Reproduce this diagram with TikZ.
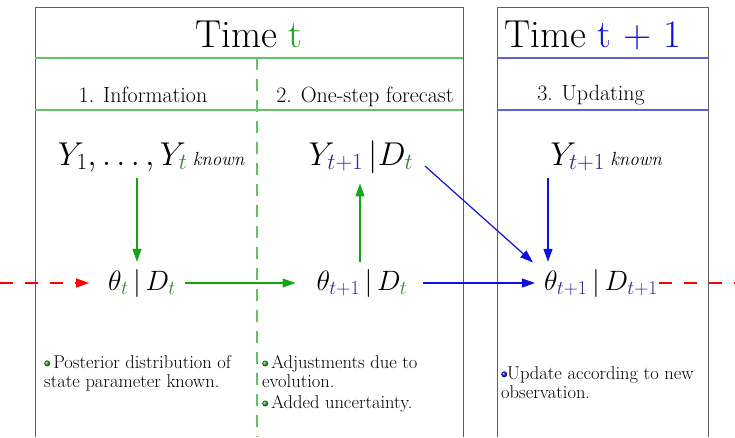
\RequirePackage{fix-cm}
\documentclass[tikz,border=0pt]{standalone}
\usepackage{fontspec}
\usepackage{tikz}
\usetikzlibrary{arrows.meta,positioning,calc}
\definecolor{tgreen}{RGB}{20,165,20}
\definecolor{lgreen}{RGB}{100,195,100}
\definecolor{dgreen}{RGB}{50,130,50}
\definecolor{tblue}{RGB}{15,15,225}
\definecolor{lblue}{RGB}{95,95,215}
\definecolor{navy}{RGB}{40,40,150}
\definecolor{framegray}{RGB}{95,95,95}
\newcommand{\gbullet}{\tikz[baseline=-0.6ex]\shade[ball color=tgreen] (0,0) circle (3pt);}
\newcommand{\bbullet}{\tikz[baseline=-0.6ex]\shade[ball color=tblue] (0,0) circle (3pt);}
\newcommand{\gs}{\textcolor{dgreen}{t}}
\newcommand{\bs}{\textcolor{navy}{t+1}}

\begin{document}
\begin{tikzpicture}[x=1pt,y=-1pt,
 frame/.style={draw=framegray,line width=0.9pt},
 head/.style={font=\fontsize{39}{44}\selectfont,inner sep=0pt,anchor=base},
 phase/.style={font=\fontsize{22}{26}\selectfont,inner sep=0pt,anchor=base},
 mth/.style={font=\fontsize{33}{38}\selectfont,inner sep=1pt,anchor=base},
 mths/.style={font=\fontsize{28}{32}\selectfont,inner sep=1pt,anchor=base},
 note/.style={font=\fontsize{18.5}{19.5}\selectfont,align=left,anchor=north west,inner sep=0pt},
 garr/.style={-{Triangle[length=13pt,width=9pt]},draw=tgreen,line width=1.2pt},
 barr/.style={-{Triangle[length=13pt,width=9pt]},draw=tblue,line width=1.2pt},
 rarr/.style={-{Triangle[length=13pt,width=9pt]},draw=red,line width=1.2pt,dash pattern=on 13pt off 12pt}]
\useasboundingbox (0,0) rectangle (735,437);
% the two time frames
\draw[frame] (35,437)--(35,7)--(463,7)--(463,437);
\draw[frame] (497,437)--(497,7)--(708,7)--(708,437);
\foreach \y in {58,110}{
\draw[lgreen,line width=1.2pt] (35,\y)--(463,\y);
\draw[lblue,line width=1.2pt] (497,\y)--(708,\y);}
\draw[lgreen,line width=1.3pt,dash pattern=on 12pt off 9pt] (257,58)--(257,437);
% headings
\node[head] (tt) at (249,47) {Time \textcolor{tgreen}{t}};
\node[head,anchor=base west] (tt1) at (504,47) {Time \textcolor{tblue}{t + 1}};
\node[phase] (info) at (143,102) {1. Information};
\node[phase] (fcst) at (365,102) {2. One-step forecast};
\node[phase] (updt) at (591,100) {3. Updating};
% states
\node[mth] (obs) at (151,165) {$Y_1,\dots,Y_{\gs}$\,{\itshape\fontsize{19}{22}\selectfont known}};
\node[mth] (pred) at (361,165) {$Y_{\bs}\,|D_{\gs}$};
\node[mth] (obsn) at (606,165) {$Y_{\bs}$\,{\itshape\fontsize{19}{22}\selectfont known}};
\node[mths] (post) at (142,290) {$\theta_{\gs}\,|\,D_{\gs}$};
\node[mths] (prior) at (362,290) {$\theta_{\bs}\,|\,D_{\gs}$};
\node[mths] (postn) at (601,290) {$\theta_{\bs}\,|\,D_{\bs}$};
\coordinate (lin) at (0,283);
\coordinate (rout) at (735,283);
% connectors
\draw[garr,shorten <=5pt,shorten >=6pt] ([xshift=-5pt]post.north |- obs.south) -- ([xshift=-5pt]post.north);
\draw[garr,shorten <=8pt,shorten >=20pt] (post.east) -- (prior.west);
\draw[garr,shorten <=6pt,shorten >=9pt] ([xshift=-2pt]prior.north) -- ([xshift=-2pt]prior.north |- pred.south);
\draw[barr,shorten <=14pt,shorten >=8pt] (pred.east) -- ([xshift=-4pt]postn.north west);
\draw[barr,shorten <=14pt,shorten >=8pt] (prior.east) -- (postn.west);
\draw[barr,shorten <=5pt,shorten >=6pt] ([xshift=-53pt]postn.north |- obsn.south) -- ([xshift=-53pt]postn.north);
\draw[rarr,shorten >=18pt] (lin) -- (post.west);
\draw[red,line width=1.2pt,dash pattern=on 13pt off 12pt] (postn.east) -- (rout);
% notes
\node[note] (n1) at (44,355) {\gbullet\,Posterior distribution of\\state parameter known.};
\node[note] (n2) at (262,355) {\gbullet\,Adjustments due to\\evolution.\\[1pt]\gbullet\,Added uncertainty.};
\node[note] (n3) at (501,366) {\bbullet Update according to new\\observation.};
\end{tikzpicture}
\end{document}
